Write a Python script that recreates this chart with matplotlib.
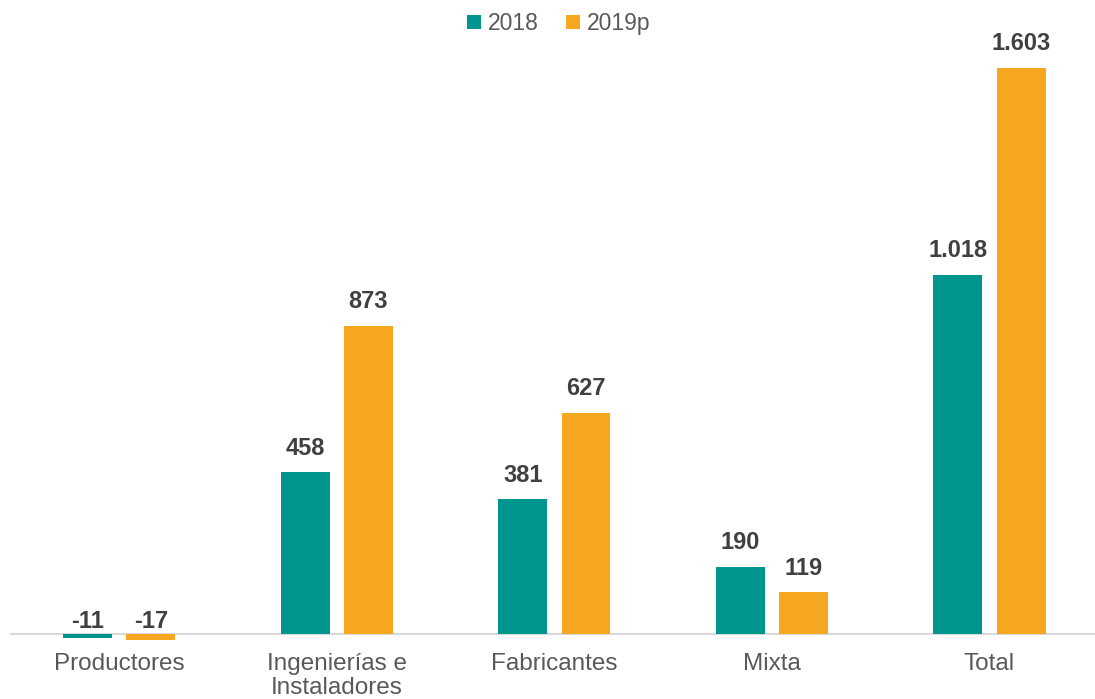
import matplotlib.pyplot as plt
import numpy as np

# --- data ---
categories = ["Productores", "Ingenierías e\nInstaladores", "Fabricantes", "Mixta", "Total"]
series_names = ["2018", "2019p"]
values_2018 = [-11, 458, 381, 190, 1018]
values_2019 = [-17, 873, 627, 119, 1603]

teal = "#00968F"
orange = "#F5A81F"
plt.rcParams['font.family'] = ['Liberation Sans', 'DejaVu Sans']

fig = plt.figure(figsize=(10.95, 6.99), dpi=100)
ax = fig.add_axes([10 / 1095, 54 / 699, 1085 / 1095, 605 / 699])

x = np.arange(len(categories))
w = 0.225
off = 0.145
b1 = ax.bar(x - off, values_2018, w, color=teal, label=series_names[0])
b2 = ax.bar(x + off, values_2019, w, color=orange, label=series_names[1])

def fmt(v):
    # spanish thousands separator
    return f"{v:,}".replace(",", ".")

for bars, vals in [(b1, values_2018), (b2, values_2019)]:
    for rect, v in zip(bars, vals):
        xc = rect.get_x() + rect.get_width() / 2
        if v >= 0:
            ax.annotate(fmt(v), (xc, v), xytext=(0, 9), textcoords="offset points",
                        ha="center", va="bottom", fontsize=17, fontweight="bold",
                        color="#404040")
        else:
            ax.annotate(fmt(v), (xc, 0), xytext=(0, 1), textcoords="offset points",
                        ha="center", va="bottom", fontsize=17, fontweight="bold",
                        color="#404040")

ax.axhline(0, color="#D9D9D9", lw=1.5, zorder=0)
ax.set_xlim(-0.503, 4.485)
ax.set_ylim(-31, 1682)
ax.set_xticks(x)
ax.set_xticklabels(categories, fontsize=17.5, color="#595959", linespacing=1.12)
ax.tick_params(axis="x", length=0, pad=6)
ax.set_yticks([])
for s in ax.spines.values():
    s.set_visible(False)

leg = fig.legend(loc="upper center", bbox_to_anchor=(0.51, 1.012), ncol=2, frameon=False,
                 fontsize=16.5, handlelength=0.6, handleheight=0.6, handletextpad=0.3,
                 columnspacing=1.2)
for t in leg.get_texts():
    t.set_color("#595959")

fig.savefig("out.png", dpi=100)
